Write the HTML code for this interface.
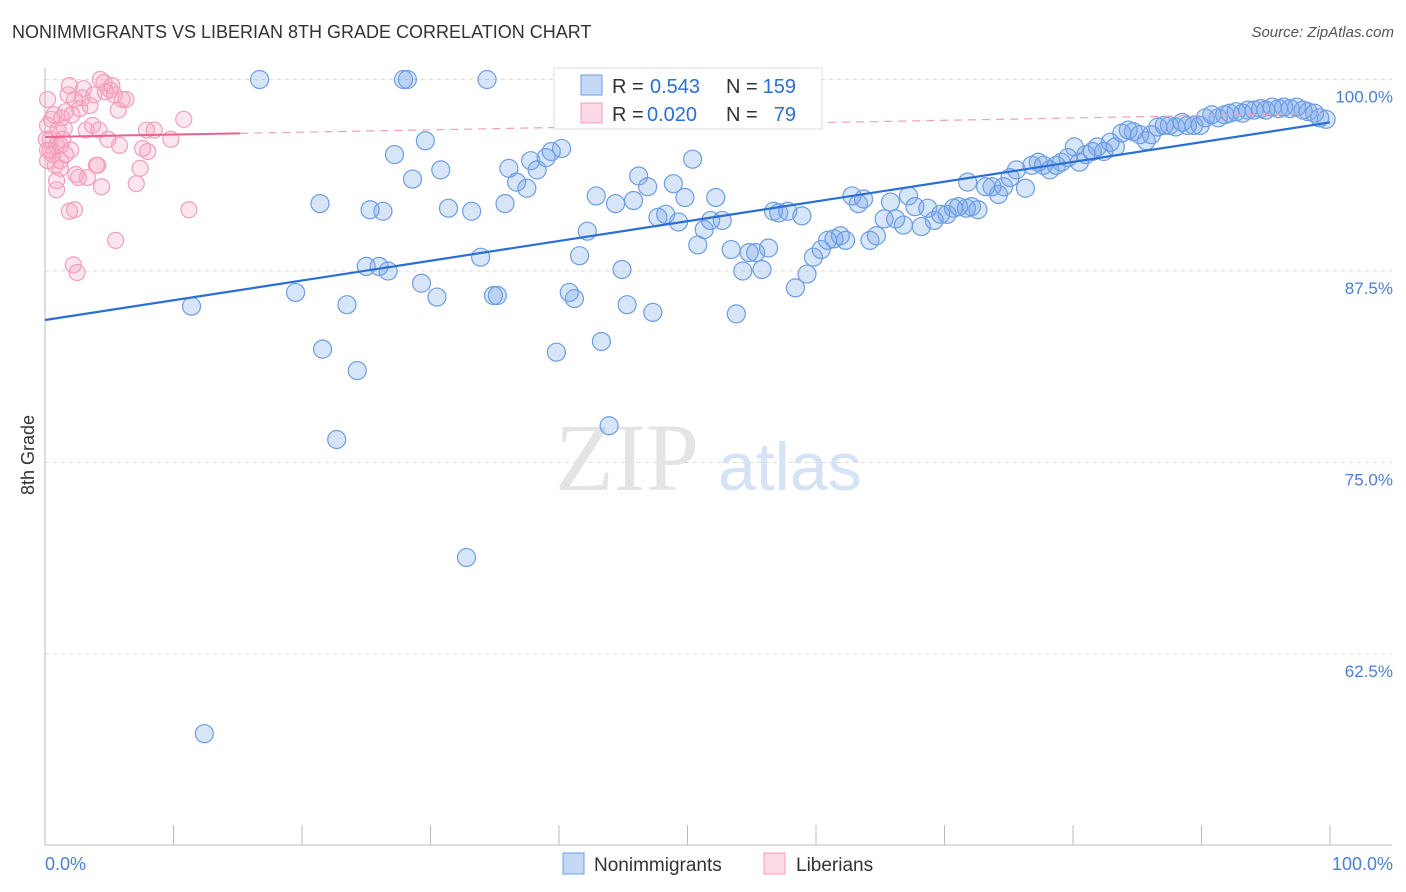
<!DOCTYPE html>
<html><head><meta charset="utf-8">
<style>
body{margin:0;background:#fff;font-family:"Liberation Sans",sans-serif;}
#wrap{position:relative;width:1406px;height:892px;overflow:hidden;}
.t{position:absolute;white-space:nowrap;}
</style></head>
<body>
<div id="wrap">
<div class="t" style="left:12px;top:22px;font-size:18px;color:#333;">NONIMMIGRANTS VS LIBERIAN 8TH GRADE CORRELATION CHART</div>
<div class="t" style="right:12px;top:24px;font-size:15px;color:#555;font-style:italic;">Source: ZipAtlas.com</div>
<svg id="chart" width="1406" height="892" style="position:absolute;left:0;top:0"></svg>
</div>
<script>
const xTicks=[0,10,20,30,40,50,60,70,80,90,100];
const yTicks=[100,87.5,75,62.5];
const yTickLabels=["100.0%","87.5%","75.0%","62.5%"];
const blueX=[11.4,16.7,27.9,28.2,34.4,19.5,21.4,21.6,22.7,23.5,24.3,25.0,25.3,26.0,26.3,26.7,27.2,28.6,29.3,29.6,30.5,30.8,31.4,32.8,33.2,33.9,34.9,35.2,35.8,36.1,36.7,37.5,37.8,38.3,39.0,39.4,40.2,39.8,40.8,41.2,41.6,42.2,42.9,43.3,43.9,44.4,44.9,45.3,45.8,46.2,46.9,47.3,47.7,48.3,48.9,49.3,49.8,50.4,50.8,51.3,51.8,52.2,52.7,53.4,53.8,54.3,54.8,55.3,55.8,56.3,56.7,57.1,57.8,58.4,58.9,59.3,59.8,60.4,60.9,61.4,61.9,62.3,62.8,63.3,63.7,64.2,64.7,65.3,65.8,66.2,66.8,67.2,67.7,68.2,68.7,69.2,69.7,70.2,70.7,71.1,71.7,72.1,72.6,71.8,73.2,73.7,74.2,74.6,75.1,75.6,76.3,76.8,77.3,77.7,78.2,78.7,79.1,79.6,80.1,80.5,81.0,81.5,81.9,82.4,82.9,83.3,83.8,84.3,84.7,85.2,85.7,86.1,86.6,87.1,87.5,88.0,88.5,88.9,89.4,89.9,90.3,90.8,91.3,91.8,92.2,92.7,93.2,93.6,94.1,94.6,95.0,95.5,96.0,96.4,96.9,97.4,97.9,98.3,98.8,99.2,99.7,12.4];
const blueY=[85.2,100,100,100,100,86.1,91.9,82.4,76.5,85.3,81.0,87.8,91.5,87.8,91.4,87.5,95.1,93.5,86.7,96.0,85.8,94.1,91.6,68.8,91.4,88.4,85.9,85.9,91.9,94.2,93.3,92.9,94.7,94.1,94.9,95.3,95.5,82.2,86.1,85.7,88.5,90.1,92.4,82.9,77.4,91.9,87.6,85.3,92.1,93.7,93.0,84.8,91.0,91.2,93.2,90.7,92.3,94.8,89.2,90.2,90.8,92.3,90.8,88.9,84.7,87.5,88.7,88.7,87.6,89.0,91.4,91.3,91.4,86.4,91.1,87.3,88.4,88.9,89.5,89.6,89.8,89.5,92.4,91.9,92.2,89.5,89.8,90.9,92.0,90.9,90.5,92.4,91.7,90.4,91.6,90.8,91.2,91.2,91.6,91.7,91.6,91.7,91.5,93.3,93.0,93.0,92.5,93.0,93.6,94.1,92.9,94.4,94.6,94.4,94.1,94.4,94.6,94.9,95.6,94.6,95.1,95.3,95.6,95.3,95.9,95.6,96.5,96.7,96.6,96.4,96.0,96.4,96.9,97.0,97.0,96.9,97.2,97.0,97.0,97.0,97.5,97.7,97.5,97.7,97.8,97.9,97.8,98.0,98.0,98.1,98.0,98.2,98.1,98.2,98.1,98.2,98.0,97.9,97.8,97.5,97.4,57.3];
const pinkX=[0.2,0.2,0.4,0.5,0.6,0.8,0.9,0.9,1.0,1.2,1.2,1.3,1.5,1.6,1.8,1.9,1.9,2.0,2.1,2.2,2.3,2.3,2.4,2.5,2.6,2.7,2.9,3.0,3.2,3.3,3.5,3.7,3.8,4.0,4.1,4.2,4.3,4.4,4.6,4.7,4.9,5.1,5.2,5.4,5.5,5.7,5.8,6.0,6.3,7.1,7.4,7.6,7.9,8.0,8.5,9.8,10.8,11.2,0.2,0.1,0.2,0.4,0.7,0.9,1.2,1.6,1.4];
const pinkY=[97.0,95.4,96.1,97.4,95.1,94.4,92.8,93.4,96.7,95.7,94.7,97.5,96.8,97.9,99.0,99.6,91.4,95.4,97.7,87.9,98.7,91.5,93.8,87.4,93.6,98.1,98.8,99.4,96.7,93.6,98.3,97.0,99.0,94.4,94.4,96.7,100,93.0,99.8,99.2,96.1,99.3,99.6,99.0,89.5,98.0,95.7,98.7,98.7,93.2,94.2,95.5,96.7,95.3,96.7,96.1,97.4,91.5,98.7,96.1,94.7,95.4,97.7,95.7,94.2,95.1,96.1];
const blueTrend=[84.3,97.2];
const pinkTrend=[96.25,97.8];
const pinkSolidEnd=15.2;

const NS="http://www.w3.org/2000/svg";
const svg=document.getElementById('chart');
const X0=45,X1=1330,YTOP=79.5,PX_PER=15.32;
const sx=v=>X0+(X1-X0)*v/100;
const sy=v=>YTOP+(100-v)*PX_PER;
function mk(tag,attrs,parent){const e=document.createElementNS(NS,tag);for(const k in attrs)e.setAttribute(k,attrs[k]);(parent||svg).appendChild(e);return e;}

// gridlines
yTicks.forEach((t,i)=>{
  const g=mk('line',{x1:X0,x2:1392,y1:sy(t),y2:sy(t),stroke:'#dcdcdc','stroke-dasharray':'4,4'});
  
  
  const tx=mk('text',{x:1393,y:sy(t)+23,'text-anchor':'end','font-size':'17',fill:'#4a7fd4','font-family':'Liberation Sans, sans-serif'});
  tx.textContent=yTickLabels[i];
  
  
});
// axes
const ax=mk('line',{x1:X0,x2:1392,y1:845,y2:845,stroke:'#bbb'});


const ay=mk('line',{x1:X0,x2:X0,y1:68,y2:845,stroke:'#bbb'});


xTicks.forEach(t=>{
  const l=mk('line',{x1:sx(t),x2:sx(t),y1:825,y2:845,stroke:'#bbb'});
  
  
});
const xl0=mk('text',{x:45,y:870,'font-size':'18',fill:'#4a7fd4','font-family':'Liberation Sans, sans-serif'});
xl0.textContent='0.0%';


const xl1=mk('text',{x:1393,y:870,'text-anchor':'end','font-size':'18',fill:'#4a7fd4','font-family':'Liberation Sans, sans-serif'});
xl1.textContent='100.0%';


const yt=mk('text',{x:34,y:455,'text-anchor':'middle','font-size':'18',fill:'#333',transform:'rotate(-90 34 455)','font-family':'Liberation Sans, sans-serif'});
yt.textContent='8th Grade';



// watermark
const wm=mk('text',{x:555,y:490,'font-size':'96',fill:'#e4e4e4','font-family':'Liberation Serif, serif'});
wm.textContent='ZIP';


const wm2=mk('text',{x:718,y:490,'font-size':'68',fill:'#d6e3f5','font-family':'Liberation Sans, sans-serif'});
wm2.textContent='atlas';



// points
blueX.forEach((v,i)=>{
  const c=mk('circle',{cx:sx(v),cy:sy(blueY[i]),r:9,fill:'rgba(110,160,235,0.28)',stroke:'#6d9de3','stroke-width':1.2});
  
  
});
pinkX.forEach((v,i)=>{
  const c=mk('circle',{cx:sx(v),cy:sy(pinkY[i]),r:8,fill:'rgba(245,160,190,0.28)',stroke:'#f2a0ba','stroke-width':1.2});
  
  
});
// trends
const bt=mk('line',{x1:sx(0),y1:sy(blueTrend[0]),x2:sx(100),y2:sy(blueTrend[1]),stroke:'#2a6fd6','stroke-width':2.2});


const pAt=v=>pinkTrend[0]+(pinkTrend[1]-pinkTrend[0])*v/100;
const pt=mk('line',{x1:sx(0),y1:sy(pAt(0)),x2:sx(pinkSolidEnd),y2:sy(pAt(pinkSolidEnd)),stroke:'#e8628f','stroke-width':2});


const pd=mk('line',{x1:sx(pinkSolidEnd),y1:sy(pAt(pinkSolidEnd)),x2:sx(100),y2:sy(pAt(100)),stroke:'#f0a0b8','stroke-width':1.2,'stroke-dasharray':'8,6'});



// legend box
const lg=mk('g',{});


mk('rect',{x:554,y:68,width:268,height:61,fill:'#fff',stroke:'#ddd'},lg);
mk('rect',{x:581,y:75,width:21,height:20,fill:'rgba(110,160,235,0.4)',stroke:'#6d9de3'},lg);
mk('rect',{x:581,y:103,width:21,height:20,fill:'rgba(245,160,190,0.4)',stroke:'#f2a0ba'},lg);
function lt(x,y,s,c,anchor){const t=mk('text',{x:x,y:y,'font-size':'20',fill:c,'text-anchor':anchor||'start','font-family':'Liberation Sans, sans-serif'},lg);t.textContent=s;}
lt(612,93,'R =','#333');lt(650,93,'0.543','#2a6fd6');lt(726,93,'N =','#333');lt(796,93,'159','#2a6fd6','end');
lt(612,121,'R =','#333');lt(647,121,'0.020','#2a6fd6');lt(726,121,'N =','#333');lt(796,121,'79','#2a6fd6','end');

// bottom legend
const bl=mk('g',{});


const b1=mk('rect',{x:563,y:853,width:21,height:21,fill:'rgba(110,160,235,0.4)',stroke:'#6d9de3'},bl);


const b1t=mk('text',{x:594,y:871,'font-size':'19',fill:'#333','font-family':'Liberation Sans, sans-serif'},bl);
b1t.textContent='Nonimmigrants';


const b2=mk('rect',{x:764,y:853,width:21,height:21,fill:'rgba(245,160,190,0.4)',stroke:'#f2a0ba'},bl);


const b2t=mk('text',{x:796,y:871,'font-size':'19',fill:'#333','font-family':'Liberation Sans, sans-serif'},bl);
b2t.textContent='Liberians';


</script>
</body></html>
